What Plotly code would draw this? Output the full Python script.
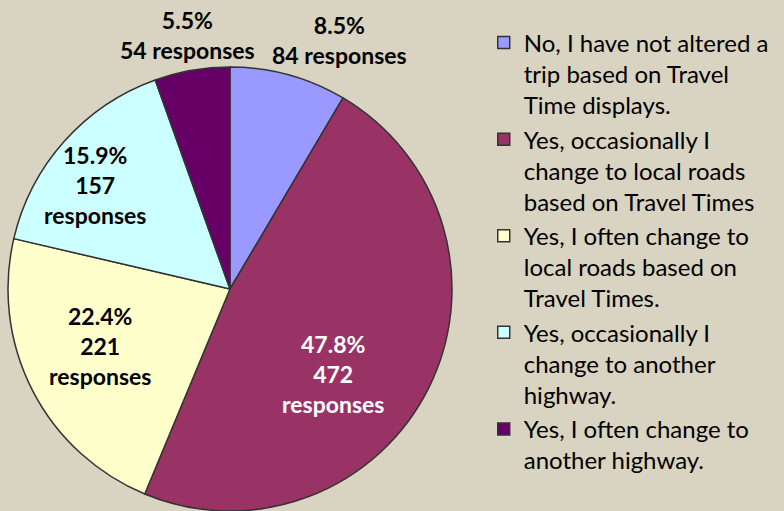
import plotly.graph_objects as go

categories = [
    "No, I have not altered a<br>trip based on Travel<br>Time displays.",
    "Yes, occasionally I<br>change to local roads<br>based on Travel Times",
    "Yes, I often change to<br>local roads based on<br>Travel Times.",
    "Yes, occasionally I<br>change to another<br>highway.",
    "Yes, I often change to<br>another highway.",
]
responses = [84, 472, 221, 157, 54]
colors = ["#9999FF", "#993366", "#FFFFCC", "#CCFFFF", "#660066"]
label_sep = ["<br>", "<br>", "<br>", "<br>", "<br>"]
count_sep = [" ", "<br>", "<br>", "<br>", " "]
text_colors = ["black", "white", "black", "black", "black"]

# data-label anchor points (pixels from the top-left of the 784x511 figure)
W, H = 784, 511
label_px = [(339, 40), (333, 374), (100, 346), (95, 185), (187, 35)]

total = sum(responses)
texts = [
    f"{v / total * 100:.1f}%{s}{v}{c}responses"
    for v, s, c in zip(responses, label_sep, count_sep)
]

fig = go.Figure(
    go.Pie(
        labels=categories,
        values=responses,
        textinfo="none",
        sort=False,
        direction="clockwise",
        rotation=0,
        marker=dict(colors=colors, line=dict(color="#333333", width=1.5)),
        domain=dict(x=[8 / W, 452 / W], y=[0, 444 / H]),
        hoverinfo="label+percent",
    )
)

for txt, col, (px, py) in zip(texts, text_colors, label_px):
    fig.add_annotation(
        x=px / W, y=1 - py / H, xref="paper", yref="paper",
        xanchor="center", yanchor="middle",
        text=txt, showarrow=False, align="center",
        font=dict(family="Lato", size=23, color=col, weight="bold"),
    )

fig.update_layout(
    width=W,
    height=H,
    margin=dict(l=0, r=0, t=0, b=0),
    paper_bgcolor="#D9D3C1",
    plot_bgcolor="#D9D3C1",
    font=dict(family="Lato", size=24, color="black"),
    legend=dict(
        x=0.617,
        y=0.96,
        xanchor="left",
        yanchor="top",
        valign="top",
        bgcolor="rgba(0,0,0,0)",
        font=dict(family="Lato", size=24, color="black"),
        itemwidth=30,
        tracegroupgap=0,
    ),
    showlegend=True,
)

fig.write_html(
    "out.html",
    config={"displayModeBar": False},
    post_script="document.body.style.margin='0';document.body.style.padding='0';",
)
